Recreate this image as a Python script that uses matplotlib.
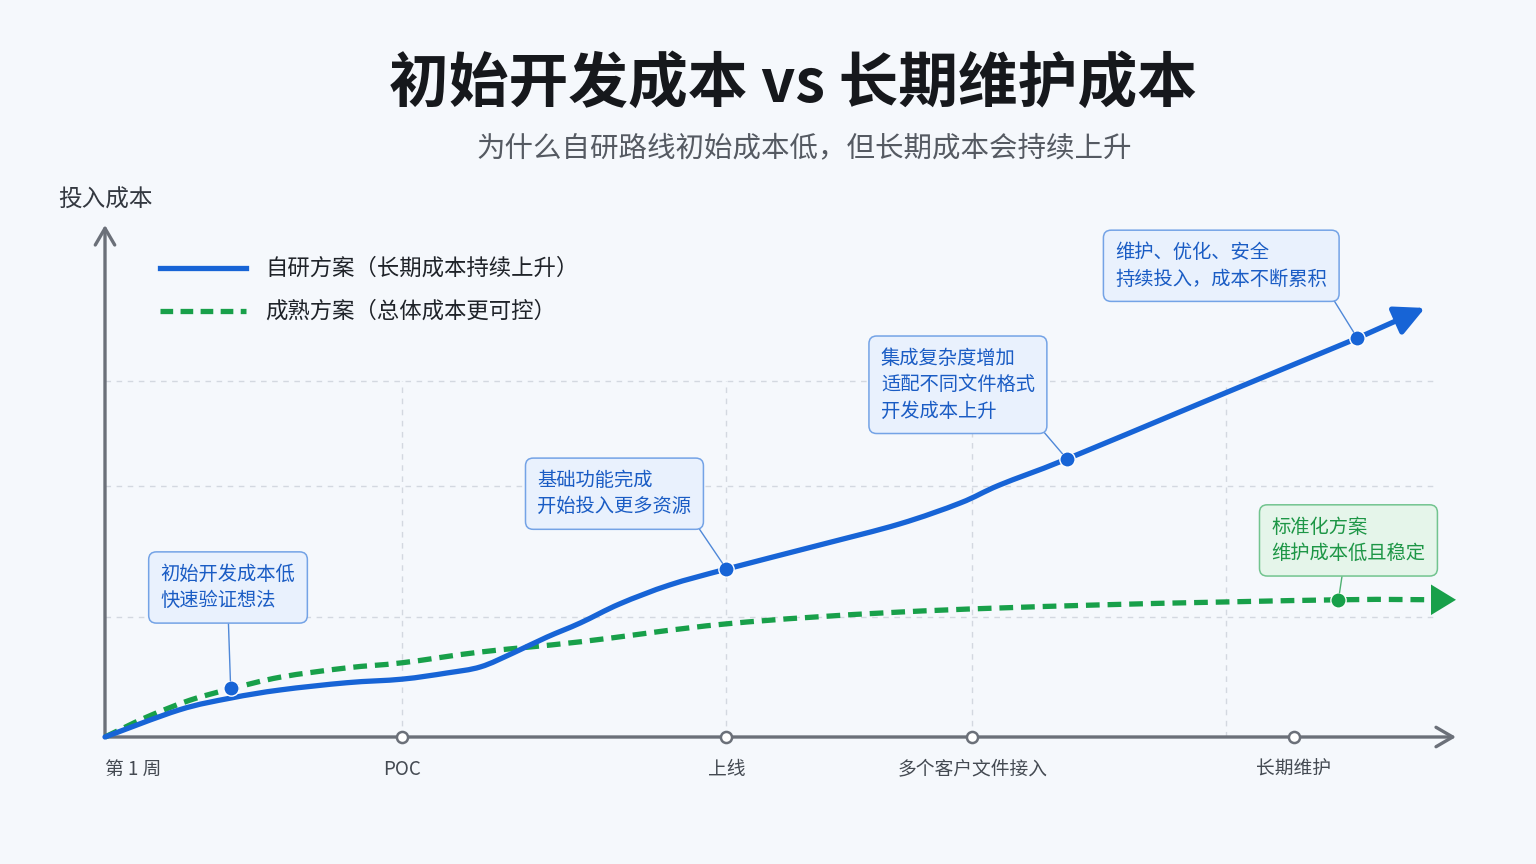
import matplotlib
matplotlib.use("Agg")
import matplotlib.pyplot as plt
import numpy as np
from matplotlib.path import Path
from matplotlib.patches import PathPatch

plt.rcParams["font.family"] = ["Noto Sans CJK SC", "DejaVu Sans"]

# ---- data (x: 时间进度 0-100, y: 投入成本 0-100) ----
tick_x = [0, 22, 46, 64.2, 88]
tick_labels = ["第 1 周", "POC", "上线", "多个客户文件接入", "长期维护"]
grid_x = [22, 46, 64.2, 83]
grid_y = [23.5, 49, 69.5]

self_x = [0, 5.5, 9.3, 13.0, 17.9, 22.0, 25.3, 27.8, 30.2, 32.7, 35.2, 38.1,
          41.8, 46.0, 52.9, 58.8, 63.3, 66.2, 71.2, 81.1, 92.7, 97.7]
self_y = [0, 5.3, 7.6, 9.2, 10.6, 11.3, 12.5, 13.7, 16.4, 19.5, 22.3, 26.0,
          29.7, 32.8, 37.5, 41.6, 45.7, 49.2, 54.3, 65.2, 77.9, 83.8]

mature_x = [0, 3.1, 6.3, 9.3, 13.0, 17.9, 22.0, 27.8, 35.2, 46.0, 58.8, 73.6, 91.3, 100]
mature_y = [0, 3.9, 7.2, 9.4, 11.7, 13.5, 14.5, 16.6, 18.6, 22.1, 24.4, 25.8, 26.8, 26.8]

self_pts_x = [9.3, 46.0, 71.2, 92.7]
self_pts_y = [9.6, 32.8, 54.3, 77.9]
self_notes = [
    "初始开发成本低\n快速验证想法",
    "基础功能完成\n开始投入更多资源",
    "集成复杂度增加\n适配不同文件格式\n开发成本上升",
    "维护、优化、安全\n持续投入，成本不断累积",
]
mature_pt = (91.3, 26.8)
mature_note = "标准化方案\n维护成本低且稳定"

# ---- style ----
BG = "#f5f8fc"
BLUE = "#1764d6"
GREEN = "#18a04a"
GRAY = "#6b7079"
GRID = "#d3d8e0"


def smooth_path(xs, ys):
    # curve through the points (Catmull-Rom as cubic Bezier segments)
    p = np.column_stack([xs, ys])
    n = len(p)
    verts = [p[0]]
    codes = [Path.MOVETO]
    for i in range(n - 1):
        p0 = p[i - 1] if i > 0 else p[i]
        p3 = p[i + 2] if i + 2 < n else p[i + 1]
        c1 = p[i] + (p[i + 1] - p0) / 6
        c2 = p[i + 1] - (p3 - p[i]) / 6
        verts += [c1, c2, p[i + 1]]
        codes += [Path.CURVE4] * 3
    return Path(verts, codes)


W, H = 1536, 864
fig = plt.figure(figsize=(W / 100, H / 100), dpi=100, facecolor=BG)
ax = fig.add_axes([105 / W, (H - 737) / H, (1456 - 105) / W, (737 - 225) / H])
ax.set_facecolor(BG)
ax.set_xlim(0, 100)
ax.set_ylim(0, 100)
ax.axis("off")

# grid
for gy in grid_y:
    ax.plot([0, 98.4], [gy, gy], color=GRID, lw=1, ls=(0, (4, 4)), zorder=1)
for gx in grid_x:
    ax.plot([gx, gx], [0, grid_y[-1]], color=GRID, lw=1, ls=(0, (4, 4)), zorder=1)

# axes with arrows
arrow_kw = dict(arrowstyle="->,head_length=0.6,head_width=0.35", lw=2.4,
                color=GRAY, mutation_scale=20, shrinkA=0, shrinkB=0)
ax.annotate("", xy=(100, 0), xytext=(0, 0), arrowprops=arrow_kw,
            annotation_clip=False, zorder=2)
ax.annotate("", xy=(0, 100), xytext=(0, 0), arrowprops=arrow_kw,
            annotation_clip=False, zorder=2)

# ticks
ax.plot(tick_x[1:], [0] * (len(tick_x) - 1), "o", ms=8, mfc="white", mec=GRAY,
        mew=1.8, clip_on=False, zorder=3)
for i, (tx, lab) in enumerate(zip(tick_x, tick_labels)):
    ax.text(tx, -6.3, lab, ha="left" if i == 0 else "center", va="center",
            fontsize=13.5, color="#444a52")

ax.text(0, 104.9, "投入成本", ha="center", va="center", fontsize=17,
        color="#333840", clip_on=False)

# curves
ax.add_patch(PathPatch(smooth_path(self_x[:-1], self_y[:-1]), fill=False,
                       ec=BLUE, lw=3.8, capstyle="round", clip_on=False, zorder=5))
ax.annotate("", xy=(self_x[-1], self_y[-1]), xytext=(self_x[-2], self_y[-2]),
            arrowprops=dict(arrowstyle="-|>,head_length=0.9,head_width=0.45",
                            lw=3.8, color=BLUE, mutation_scale=20,
                            shrinkA=0, shrinkB=0),
            annotation_clip=False, zorder=5)

ax.add_patch(PathPatch(smooth_path(mature_x[:-1] + [mature_x[-1] - 1.5],
                                   mature_y[:-1] + [mature_y[-1]]),
                       fill=False, ec=GREEN, lw=3.8, ls=(0, (2.6, 1.5)),
                       capstyle="butt", clip_on=False, zorder=4))
ax.annotate("", xy=(mature_x[-1], mature_y[-1]), xytext=(mature_x[-2], mature_y[-2]),
            arrowprops=dict(arrowstyle="-|>,head_length=0.9,head_width=0.55",
                            lw=0, color=GREEN, mutation_scale=20,
                            shrinkA=0, shrinkB=0),
            annotation_clip=False, zorder=4)

# annotated points
ax.plot(self_pts_x, self_pts_y, "o", ms=11, color=BLUE, mec="white", mew=1,
        clip_on=False, zorder=6)
ax.plot(*mature_pt, "o", ms=11, color=GREEN, mec="white", mew=1,
        clip_on=False, zorder=6)

offsets = [(-70, 124), (-189, 99), (-186, 111), (-242, 96)]
relpos = [(0.5, 0), (1, 0), (1, 0), (1, 0)]
blue_box = dict(boxstyle="round,pad=0.62,rounding_size=0.4", fc="#e9f1fd",
                ec="#74a3e6", lw=1.1)
for px, py, note, off, rp in zip(self_pts_x, self_pts_y, self_notes, offsets, relpos):
    ax.annotate(note, xy=(px, py), xytext=off, textcoords="offset pixels",
                ha="left", va="top", fontsize=13.9, color="#1a5cc4",
                linespacing=1.33, bbox=blue_box,
                arrowprops=dict(arrowstyle="-", color="#4f88d8", lw=1,
                                relpos=rp, shrinkA=0, shrinkB=5),
                zorder=7)

green_box = dict(boxstyle="round,pad=0.62,rounding_size=0.4", fc="#e5f5ea",
                 ec="#72c48f", lw=1.1)
ax.annotate(mature_note, xy=mature_pt, xytext=(-67, 83), textcoords="offset pixels",
            ha="left", va="top", fontsize=13.9, color="#1d9646",
            linespacing=1.33, bbox=green_box,
            arrowprops=dict(arrowstyle="-", color="#4fb172", lw=1,
                            relpos=(0.47, 0), shrinkA=0, shrinkB=5),
            zorder=7)

# legend
ax.plot([4.1, 10.4], [91.6, 91.6], color=BLUE, lw=3.8, clip_on=False)
ax.plot([4.1, 10.4], [83.2, 83.2], color=GREEN, lw=3.8, dashes=(2.4, 1.4),
        clip_on=False)
ax.text(11.85, 91.6, "自研方案（长期成本持续上升）", ha="left", va="center",
        fontsize=16.1, color="#1f2329")
ax.text(11.85, 83.2, "成熟方案（总体成本更可控）", ha="left", va="center",
        fontsize=16.1, color="#1f2329")

# titles
fig.text(793 / W, 1 - 85 / H, "初始开发成本 vs 长期维护成本", ha="center",
         va="center", fontsize=43, fontweight="bold", color="#16181c")
fig.text(804 / W, 1 - 148 / H, "为什么自研路线初始成本低，但长期成本会持续上升",
         ha="center", va="center", fontsize=20.5, color="#555a62")

fig.savefig("out.png", dpi=100, facecolor=BG)
